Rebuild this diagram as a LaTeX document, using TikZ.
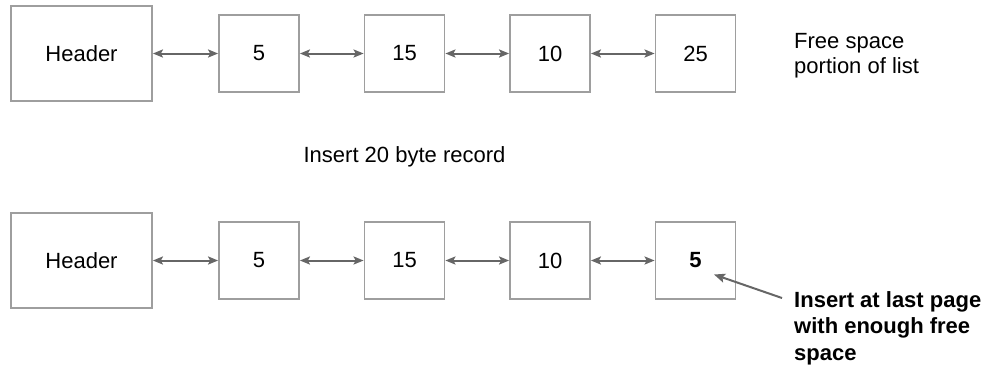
\documentclass[tikz,border=0pt]{standalone}
\usepackage{fontspec}
\setmainfont{Liberation Sans}
\usetikzlibrary{arrows.meta}
\definecolor{boxgray}{HTML}{9E9E9E}
\definecolor{arrowgray}{HTML}{666666}
\tikzset{
  pagebox/.style={draw=boxgray, line width=1.8pt, minimum width=80pt, minimum height=77pt, inner sep=0pt, font=\fontsize{22}{25}\selectfont},
  headbox/.style={pagebox, minimum width=141pt, minimum height=95pt},
  link/.style={draw=arrowgray, line width=2pt, {Stealth[length=10pt,width=8pt,inset=2pt]}-{Stealth[length=10pt,width=8pt,inset=2pt]}},
  pointer/.style={draw=arrowgray, line width=2pt, -{Stealth[length=11pt,width=9pt,inset=2pt]}},
  note/.style={inner sep=0pt, align=left, anchor=west, font=\fontsize{22}{25.3}\selectfont},
  boldnote/.style={inner sep=0pt, align=left, anchor=west, font=\fontsize{22}{26.5}\selectfont\bfseries}
}
\begin{document}
\begin{tikzpicture}[x=1pt,y=-1pt]
\useasboundingbox (0,0) rectangle (992,367);
% top row
\node[headbox] (h1) at (81.5,53.5) {Header};
\node[pagebox] (a1) at (259,53.5) {5};
\node[pagebox] (b1) at (404.5,53.5) {15};
\node[pagebox] (c1) at (550,53.5) {10};
\node[pagebox] (d1) at (695.5,53.5) {25};
\draw[link] (h1) -- (a1);
\draw[link] (a1) -- (b1);
\draw[link] (b1) -- (c1);
\draw[link] (c1) -- (d1);
\node[note] (fs) at (794,55.5) {Free space\\portion of list};
% middle text
\node[inner sep=0pt, font=\fontsize{22}{25}\selectfont] (ins) at (404.5,157) {Insert 20 byte record};
% bottom row
\node[headbox] (h2) at (81.5,260.5) {Header};
\node[pagebox] (a2) at (259,260.5) {5};
\node[pagebox] (b2) at (404.5,260.5) {15};
\node[pagebox] (c2) at (550,260.5) {10};
\node[pagebox] (d2) at (695.5,260.5) {\bfseries 5};
\draw[link] (h2) -- (a2);
\draw[link] (a2) -- (b2);
\draw[link] (b2) -- (c2);
\draw[link] (c2) -- (d2);
\node[boldnote] (lp) at (794,328) {Insert at last page\\with enough free\\space};
\coordinate (tip) at (714,274.5);
\coordinate (tail) at (782,298);
\draw[pointer] (tail) -- (tip);
\end{tikzpicture}
\end{document}
